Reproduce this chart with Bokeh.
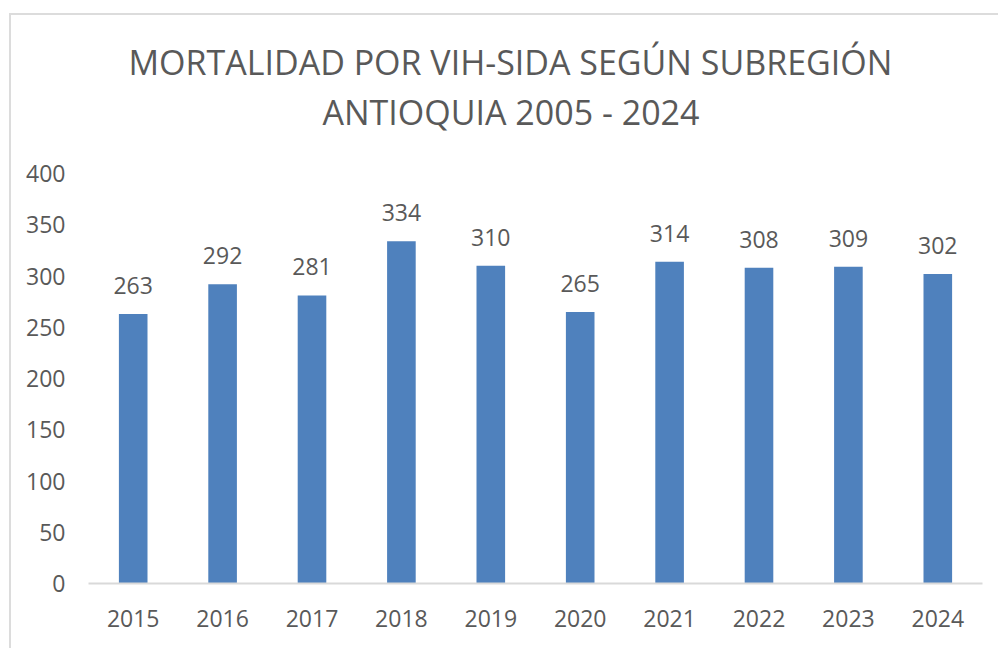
from bokeh.plotting import figure
from bokeh.models import ColumnDataSource, LabelSet, Range1d, FixedTicker, Title, InlineStyleSheet
from bokeh.core.properties import value
from bokeh.embed import file_html
from bokeh.resources import INLINE

years = ["2015", "2016", "2017", "2018", "2019", "2020", "2021", "2022", "2023", "2024"]
deaths = [263, 292, 281, 334, 310, 265, 314, 308, 309, 302]
y_ticks = [0, 50, 100, 150, 200, 250, 300, 350, 400]
title_line1 = "MORTALIDAD POR VIH-SIDA SEGÚN SUBREGIÓN"
title_line2 = "ANTIOQUIA 2005 - 2024"

GRAY = "#595959"
FONT = "Open Sans"

src = ColumnDataSource(dict(x=years, y=deaths, lbl=[str(v) for v in deaths]))

p = figure(width=998, height=648, x_range=years, y_range=Range1d(0, 400),
           output_backend="svg", toolbar_location=None, title=None,
           min_border_left=88, min_border_right=16, min_border_bottom=65, min_border_top=173)

# spacer between the frame and the second title line
t0 = Title(text=" ", text_font=FONT, text_font_size="10px", text_color=GRAY, standoff=23)
t2 = Title(text=title_line2, text_font=FONT, text_font_size="34px", text_font_style="normal",
           text_color=GRAY, align="left", offset=234, standoff=0)
t1 = Title(text=title_line1, text_font=FONT, text_font_size="34px", text_font_style="normal",
           text_color=GRAY, align="left", offset=40, standoff=3)
p.add_layout(t0, "above")
p.add_layout(t2, "above")
p.add_layout(t1, "above")

p.vbar(x="x", top="y", width=0.32, source=src, color="#4f81bd", line_color=None)

labels = LabelSet(x="x", y="y", text="lbl", source=src, text_align="center",
                  text_baseline="alphabetic", y_offset=20, text_font=value(FONT),
                  text_font_size=value("23px"), text_color=value(GRAY))
p.add_layout(labels)

p.xgrid.grid_line_color = None
p.ygrid.grid_line_color = None
p.outline_line_color = None

p.yaxis.ticker = FixedTicker(ticks=y_ticks)
p.yaxis.axis_line_color = None
p.yaxis.major_tick_line_color = None
p.yaxis.minor_tick_line_color = None
p.yaxis.major_label_standoff = 17
p.xaxis.axis_line_color = "#d9d9d9"
p.xaxis.axis_line_width = 2
p.xaxis.major_tick_line_color = None
p.xaxis.minor_tick_line_color = None
p.xaxis.major_label_standoff = 20
for ax in (p.xaxis, p.yaxis):
    ax.major_label_text_font = FONT
    ax.major_label_text_font_size = "23px"
    ax.major_label_text_color = GRAY

p.stylesheets = [InlineStyleSheet(css=(
    ":host { position: relative; }"
    ":host::after { content: ''; position: absolute; left: 9px; top: 13px; right: 0; bottom: 0;"
    " border-left: 2px solid #dcdcdc; border-top: 2px solid #dcdcdc; pointer-events: none; }"
))]

open("out.html", "w").write(file_html(p, INLINE))
